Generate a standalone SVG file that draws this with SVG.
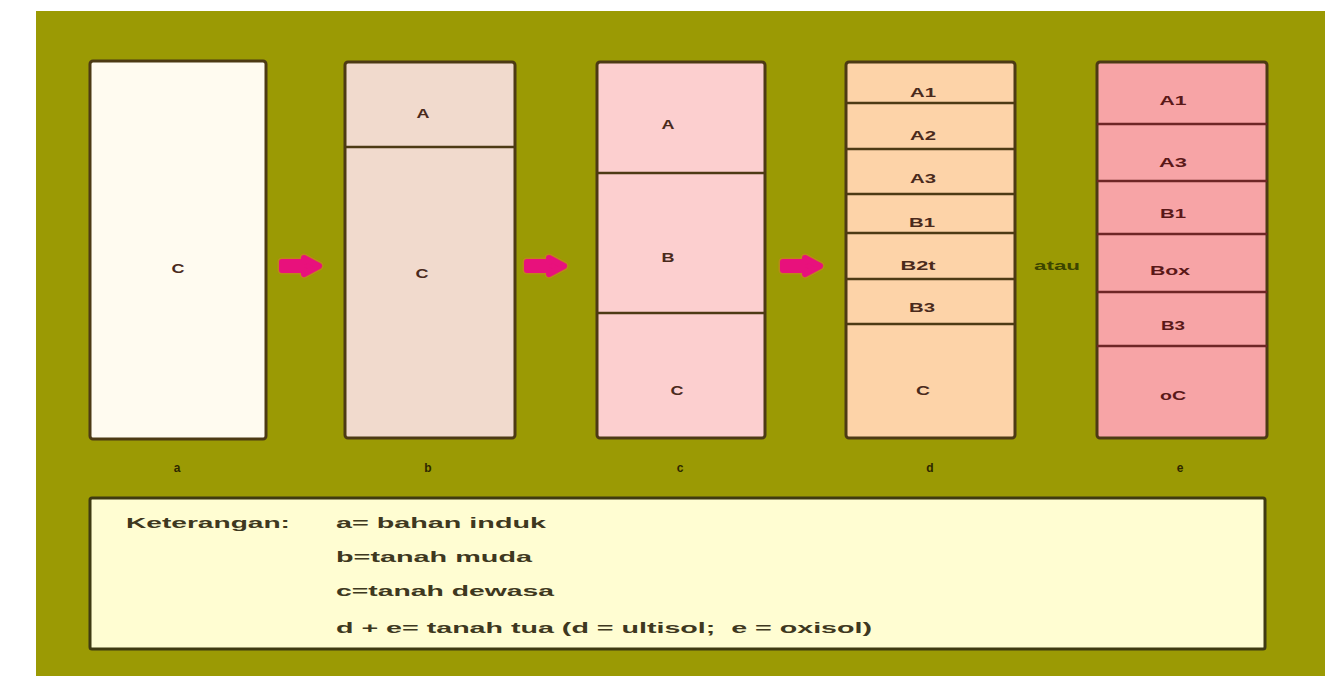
<svg xmlns="http://www.w3.org/2000/svg" width="1335" height="676" viewBox="0 0 1335 676">
<style>
.col{stroke:#4d3a14;stroke-width:3}
.div{stroke:#4d3a14;stroke-width:2.5}
.dive{stroke:#6e2626;stroke-width:2.5}
.lbl{font-family:"Liberation Sans",Arial,sans-serif;font-weight:bold;font-size:12px;fill:#4a2a1c;text-anchor:middle}
.lble{font-family:"Liberation Sans",Arial,sans-serif;font-weight:bold;font-size:12px;fill:#5a1818;text-anchor:middle}
.sub{font-family:"Liberation Sans",Arial,sans-serif;font-weight:bold;font-size:12px;fill:#2e2800;text-anchor:middle}
.leg{font-family:"Liberation Sans",Arial,sans-serif;font-weight:bold;font-size:15px;fill:#3e3820}
.arrow{fill:#e8117c;stroke:#e8117c;stroke-width:6;stroke-linejoin:round}
.glow{fill:none;stroke:#e8703a;stroke-width:9;stroke-linejoin:round;opacity:0.4}
</style>
<rect x="0" y="0" width="1335" height="676" fill="#ffffff"/>
<rect x="36" y="11" width="1289" height="665" fill="#9b9a04"/>

<g id="col-a">
<rect class="col" x="90" y="61" width="176" height="378" rx="3" fill="#fffbf0"/>
<text class="lbl" x="178" y="273" textLength="13" lengthAdjust="spacingAndGlyphs">C</text>
</g>

<g id="col-b">
<rect class="col" x="345" y="62" width="170" height="376" rx="3" fill="#f1dacd"/>
<line class="div" x1="345" y1="147" x2="515" y2="147"/>
<text class="lbl" x="423" y="118" textLength="13" lengthAdjust="spacingAndGlyphs">A</text>
<text class="lbl" x="422" y="278" textLength="13" lengthAdjust="spacingAndGlyphs">C</text>
</g>

<g id="col-c">
<rect class="col" x="597" y="62" width="168" height="376" rx="3" fill="#fccfcf"/>
<line class="div" x1="597" y1="173" x2="765" y2="173"/>
<line class="div" x1="597" y1="313" x2="765" y2="313"/>
<text class="lbl" x="668" y="129" textLength="13" lengthAdjust="spacingAndGlyphs">A</text>
<text class="lbl" x="668" y="262" textLength="13" lengthAdjust="spacingAndGlyphs">B</text>
<text class="lbl" x="677" y="395" textLength="13" lengthAdjust="spacingAndGlyphs">C</text>
</g>

<g id="col-d">
<rect class="col" x="846" y="62" width="169" height="376" rx="3" fill="#fdd3a8"/>
<line class="div" x1="846" y1="103" x2="1015" y2="103"/>
<line class="div" x1="846" y1="149" x2="1015" y2="149"/>
<line class="div" x1="846" y1="194" x2="1015" y2="194"/>
<line class="div" x1="846" y1="233" x2="1015" y2="233"/>
<line class="div" x1="846" y1="279" x2="1015" y2="279"/>
<line class="div" x1="846" y1="324" x2="1015" y2="324"/>
<text class="lbl" x="923" y="97" textLength="26" lengthAdjust="spacingAndGlyphs">A1</text>
<text class="lbl" x="923" y="140" textLength="26" lengthAdjust="spacingAndGlyphs">A2</text>
<text class="lbl" x="923" y="183" textLength="26" lengthAdjust="spacingAndGlyphs">A3</text>
<text class="lbl" x="922" y="227" textLength="26" lengthAdjust="spacingAndGlyphs">B1</text>
<text class="lbl" x="918" y="270" textLength="35" lengthAdjust="spacingAndGlyphs">B2t</text>
<text class="lbl" x="922" y="312" textLength="26" lengthAdjust="spacingAndGlyphs">B3</text>
<text class="lbl" x="923" y="395" textLength="14" lengthAdjust="spacingAndGlyphs">C</text>
</g>

<g id="atau">
<text x="1057" y="270" font-family="Liberation Sans, Arial, sans-serif" font-weight="bold" font-size="12" fill="#3c4500" text-anchor="middle" textLength="46" lengthAdjust="spacingAndGlyphs">atau</text>
</g>

<g id="col-e">
<rect class="col" x="1097" y="62" width="170" height="376" rx="3" fill="#f7a4a6"/>
<line class="dive" x1="1097" y1="124" x2="1267" y2="124"/>
<line class="dive" x1="1097" y1="181" x2="1267" y2="181"/>
<line class="dive" x1="1097" y1="234" x2="1267" y2="234"/>
<line class="dive" x1="1097" y1="292" x2="1267" y2="292"/>
<line class="dive" x1="1097" y1="346" x2="1267" y2="346"/>
<text class="lble" x="1173" y="105" textLength="27" lengthAdjust="spacingAndGlyphs">A1</text>
<text class="lble" x="1173" y="167" textLength="28" lengthAdjust="spacingAndGlyphs">A3</text>
<text class="lble" x="1173" y="218" textLength="26" lengthAdjust="spacingAndGlyphs">B1</text>
<text class="lble" x="1170" y="275" textLength="40" lengthAdjust="spacingAndGlyphs">Box</text>
<text class="lble" x="1173" y="330" textLength="24" lengthAdjust="spacingAndGlyphs">B3</text>
<text class="lble" x="1173" y="400" textLength="26" lengthAdjust="spacingAndGlyphs">oC</text>
</g>

<g id="connectors">
<path class="glow" d="M282,262 L304,262 L304,258 L319,266 L304,274 L304,270 L282,270 Z"/>
<path class="arrow" d="M282,262 L304,262 L304,258 L319,266 L304,274 L304,270 L282,270 Z"/>
<path class="glow" d="M527,262 L549,262 L549,258 L564,266 L549,274 L549,270 L527,270 Z"/>
<path class="arrow" d="M527,262 L549,262 L549,258 L564,266 L549,274 L549,270 L527,270 Z"/>
<path class="glow" d="M783,262 L805,262 L805,258 L820,266 L805,274 L805,270 L783,270 Z"/>
<path class="arrow" d="M783,262 L805,262 L805,258 L820,266 L805,274 L805,270 L783,270 Z"/>
</g>

<g id="sublabels">
<text class="sub" x="177" y="472">a</text>
<text class="sub" x="428" y="472">b</text>
<text class="sub" x="680" y="472">c</text>
<text class="sub" x="930" y="472">d</text>
<text class="sub" x="1180" y="472">e</text>
</g>

<g id="legend">
<rect x="90" y="498" width="1175" height="151" rx="2" fill="#fffdd2" stroke="#3f3a12" stroke-width="3"/>
<text class="leg" x="126" y="528" textLength="164" lengthAdjust="spacingAndGlyphs">Keterangan:</text>
<text class="leg" x="336" y="528" textLength="210" lengthAdjust="spacingAndGlyphs">a= bahan induk</text>
<text class="leg" x="336" y="562" textLength="196" lengthAdjust="spacingAndGlyphs">b=tanah muda</text>
<text class="leg" x="336" y="596" textLength="218" lengthAdjust="spacingAndGlyphs">c=tanah dewasa</text>
<text class="leg" x="336" y="633" textLength="536" lengthAdjust="spacingAndGlyphs" xml:space="preserve">d + e= tanah tua (d = ultisol;  e = oxisol)</text>
</g>
</svg>
